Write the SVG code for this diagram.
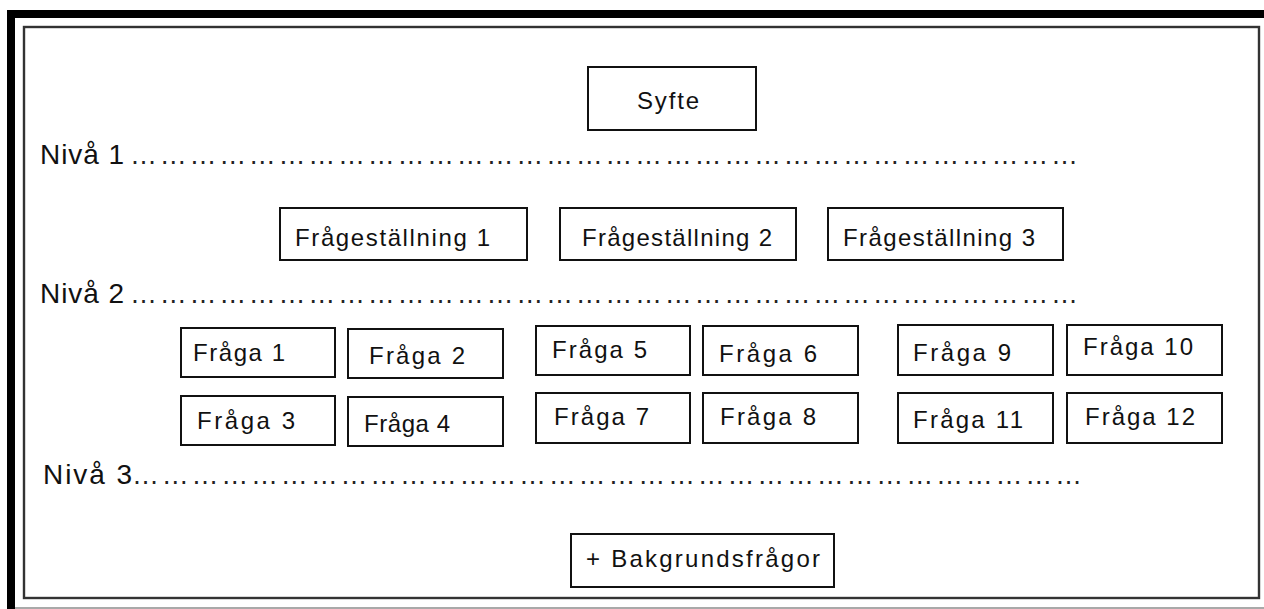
<svg xmlns="http://www.w3.org/2000/svg" width="1264" height="609" viewBox="0 0 1264 609">
  <style>
    .box { fill: #ffffff; stroke: #111111; stroke-width: 2; }
    .lbl { font-family: "Liberation Sans", Arial, sans-serif; font-size: 24px; fill: #111111; }
    .lvl { font-family: "Liberation Sans", Arial, sans-serif; font-size: 28px; fill: #111111; }
    .dots { font-family: "Liberation Sans", Arial, sans-serif; font-size: 27px; fill: #222222; }
  </style>

  <!-- page background and outer border -->
  <rect x="0" y="0" width="1264" height="609" fill="#ffffff"/>
  <rect x="7" y="10" width="1257" height="8" fill="#000000"/>
  <rect x="7" y="10" width="8" height="599" fill="#000000"/>
  <line x1="15" y1="608" x2="1264" y2="608" stroke="#555555" stroke-width="1.2"/>

  <!-- inner frame -->
  <rect x="24" y="27" width="1235" height="571" fill="none" stroke="#333333" stroke-width="2.4"/>

  <!-- level separators -->
  <g id="levels">
    <text class="lvl" x="40" y="164" textLength="84" lengthAdjust="spacing">Nivå 1</text>
    <text class="dots" x="130" y="164" textLength="948" lengthAdjust="spacing">……………………………………………………………………………………</text>
    <text class="lvl" x="40" y="303" textLength="84" lengthAdjust="spacing">Nivå 2</text>
    <text class="dots" x="130" y="303" textLength="948" lengthAdjust="spacing">……………………………………………………………………………………</text>
    <text class="lvl" x="43" y="484" textLength="89" lengthAdjust="spacing">Nivå 3</text>
    <text class="dots" x="132" y="484" textLength="950" lengthAdjust="spacing">……………………………………………………………………………………</text>
  </g>

  <!-- level 1 -->
  <g id="syfte">
    <rect class="box" x="588" y="67" width="168" height="63"/>
    <text class="lbl" x="637" y="109" textLength="62" lengthAdjust="spacing">Syfte</text>
  </g>

  <!-- level 2 -->
  <g id="fragestallning-1">
    <rect class="box" x="280" y="208" width="247" height="52"/>
    <text class="lbl" x="295" y="246" textLength="195" lengthAdjust="spacing">Frågeställning 1</text>
  </g>
  <g id="fragestallning-2">
    <rect class="box" x="560" y="208" width="236" height="52"/>
    <text class="lbl" x="582" y="246" textLength="190" lengthAdjust="spacing">Frågeställning 2</text>
  </g>
  <g id="fragestallning-3">
    <rect class="box" x="828" y="208" width="235" height="52"/>
    <text class="lbl" x="843" y="246" textLength="192" lengthAdjust="spacing">Frågeställning 3</text>
  </g>

  <!-- level 3 -->
  <g id="fraga-1">
    <rect class="box" x="181" y="328" width="154" height="49"/>
    <text class="lbl" x="193" y="361" textLength="92" lengthAdjust="spacing">Fråga 1</text>
  </g>
  <g id="fraga-2">
    <rect class="box" x="348" y="329" width="155" height="49"/>
    <text class="lbl" x="369" y="364" textLength="96" lengthAdjust="spacing">Fråga 2</text>
  </g>
  <g id="fraga-3">
    <rect class="box" x="181" y="396" width="154" height="49"/>
    <text class="lbl" x="197" y="429" textLength="98" lengthAdjust="spacing">Fråga 3</text>
  </g>
  <g id="fraga-4">
    <rect class="box" x="348" y="397" width="155" height="49"/>
    <text class="lbl" x="364" y="432" textLength="86" lengthAdjust="spacing">Fråga 4</text>
  </g>
  <g id="fraga-5">
    <rect class="box" x="536" y="326" width="154" height="49"/>
    <text class="lbl" x="552" y="358" textLength="95" lengthAdjust="spacing">Fråga 5</text>
  </g>
  <g id="fraga-6">
    <rect class="box" x="703" y="326" width="155" height="49"/>
    <text class="lbl" x="719" y="362" textLength="98" lengthAdjust="spacing">Fråga 6</text>
  </g>
  <g id="fraga-7">
    <rect class="box" x="536" y="393" width="154" height="50"/>
    <text class="lbl" x="554" y="425" textLength="95" lengthAdjust="spacing">Fråga 7</text>
  </g>
  <g id="fraga-8">
    <rect class="box" x="703" y="393" width="155" height="50"/>
    <text class="lbl" x="720" y="425" textLength="96" lengthAdjust="spacing">Fråga 8</text>
  </g>
  <g id="fraga-9">
    <rect class="box" x="898" y="325" width="155" height="50"/>
    <text class="lbl" x="913" y="361" textLength="98" lengthAdjust="spacing">Fråga 9</text>
  </g>
  <g id="fraga-10">
    <rect class="box" x="1067" y="325" width="155" height="50"/>
    <text class="lbl" x="1083" y="355" textLength="110" lengthAdjust="spacing">Fråga 10</text>
  </g>
  <g id="fraga-11">
    <rect class="box" x="898" y="393" width="155" height="50"/>
    <text class="lbl" x="913" y="428" textLength="110" lengthAdjust="spacing">Fråga 11</text>
  </g>
  <g id="fraga-12">
    <rect class="box" x="1067" y="393" width="155" height="50"/>
    <text class="lbl" x="1085" y="425" textLength="110" lengthAdjust="spacing">Fråga 12</text>
  </g>

  <!-- background questions -->
  <g id="bakgrundsfragor">
    <rect class="box" x="571" y="534" width="263" height="53"/>
    <text class="lbl" x="586" y="567" textLength="234" lengthAdjust="spacing">+ Bakgrundsfrågor</text>
  </g>
</svg>
